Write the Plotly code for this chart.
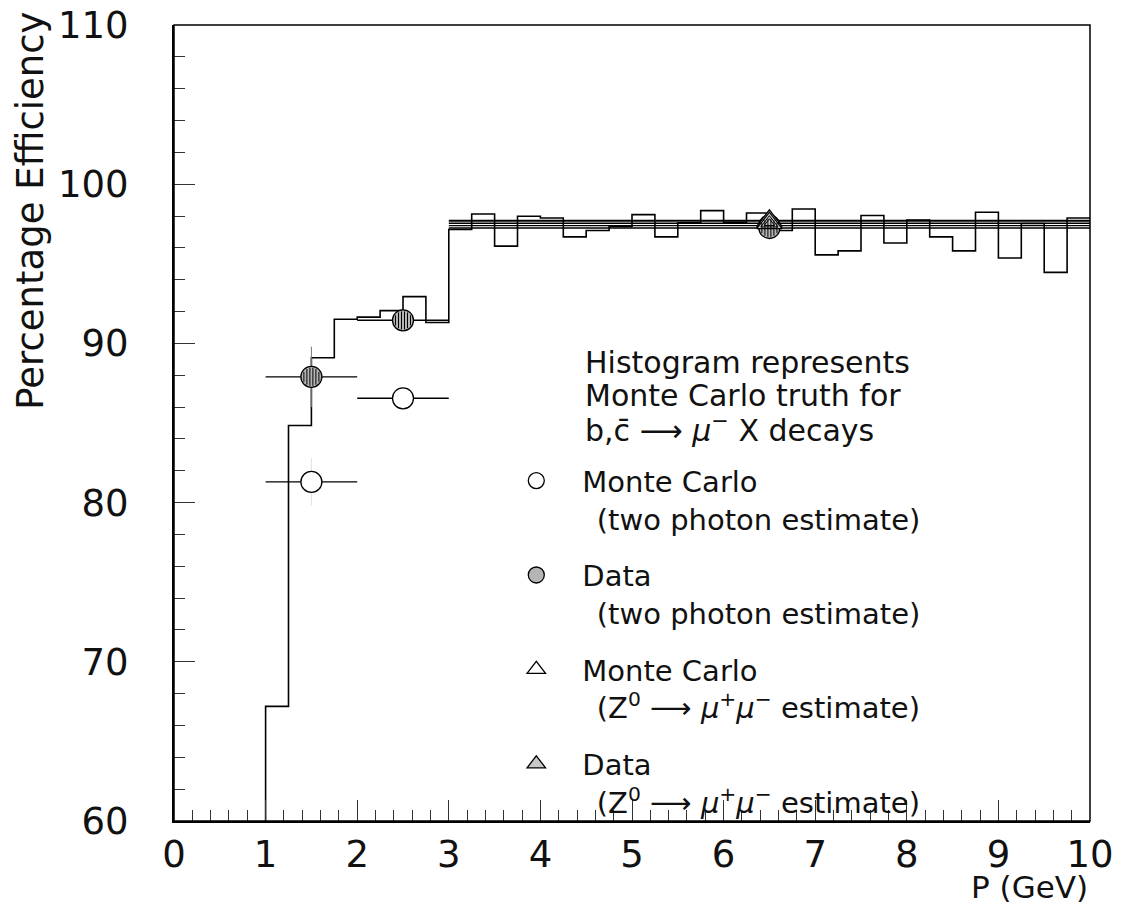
import math
import plotly.graph_objects as go

# ---------------- data ----------------
BIN_WIDTH = 0.25
hist_lo = [1.0 + BIN_WIDTH * i for i in range(36)]          # bin low edges (GeV)
hist_val = [67.2, 84.84, 89.1, 91.52, 91.65, 92.06, 92.94, 91.31,
            97.15, 98.13, 96.11, 97.99, 97.88, 96.69, 97.09, 97.34,
            98.09, 96.69, 97.57, 98.34, 97.61, 98.19, 97.09, 98.44,
            95.56, 95.81, 98.03, 96.31, 97.75, 96.69, 95.81, 98.24,
            95.36, 97.53, 94.46, 97.88]

mc2g_x = [1.5, 2.5, 6.5]
mc2g_y = [81.3, 86.55, 97.40]
mc2g_xerr = [0.5, 0.5, 3.5]
mc2g_yerr = [1.5, 0.0, 0.0]

data2g_x = [1.5, 2.5, 6.5]
data2g_y = [87.9, 91.45, 97.25]
data2g_xerr = [0.5, 0.5, 3.5]
data2g_yerr = [1.9, 0.0, 0.0]

mcz_x = [6.5]
mcz_y = [97.70]
mcz_xerr = [3.5]

dataz_x = [6.5]
dataz_y = [97.55]
dataz_xerr = [3.5]

x_ticks = list(range(0, 11))
y_ticks = [60, 70, 80, 90, 100, 110]

# ---------------- style constants ----------------
X_RANGE = [0, 10]
Y_RANGE = [60, 110]
FONT = "DejaVu Sans"
BLACK = "#000000"

fig = go.Figure()

# histogram (Monte Carlo truth), drawn as a step outline
hx = [hist_lo[0]] + hist_lo + [hist_lo[-1] + BIN_WIDTH]
hy = [Y_RANGE[0]] + hist_val + [hist_val[-1]]
fig.add_trace(go.Scatter(x=hx, y=hy, mode="lines", line=dict(color=BLACK, width=1.6, shape="hv"),
                         showlegend=False, hoverinfo="skip"))

legend_font = dict(family=FONT, size=29, color="#111")
SP = "\u2002"

fig.add_trace(go.Scatter(
    x=mc2g_x, y=mc2g_y, mode="markers", name="Monte Carlo<br>" + SP + "(two photon estimate)",
    legendgroup="a",
    marker=dict(symbol="circle", size=21, color="white", line=dict(color=BLACK, width=1.3)),
    error_x=dict(type="data", array=mc2g_xerr, color=BLACK, thickness=1.4, width=0),
    error_y=dict(type="data", array=mc2g_yerr, color="rgba(0,0,0,0.12)", thickness=1, width=0),
))
fig.add_trace(go.Scatter(
    x=data2g_x, y=data2g_y, mode="markers", name="Data<br>" + SP + "(two photon estimate)",
    legendgroup="b",
    marker=dict(symbol="circle", size=21, color="#b5b5b5", line=dict(color=BLACK, width=1.3)),
    error_x=dict(type="data", array=data2g_xerr, color=BLACK, thickness=1.4, width=0),
    error_y=dict(type="data", array=data2g_yerr, color="#777", thickness=1, width=0),
))
fig.add_trace(go.Scatter(
    x=mcz_x, y=mcz_y, mode="markers",
    name="Monte Carlo<br>" + SP + "(Z<sup>0</sup> ⟶ <i>μ</i><sup>+</sup><i>μ</i><sup>−</sup> estimate)",
    legendgroup="c",
    marker=dict(symbol="triangle-up", size=22, color="white", line=dict(color=BLACK, width=1.3)),
    error_x=dict(type="data", array=mcz_xerr, color=BLACK, thickness=2, width=0),
))
fig.add_trace(go.Scatter(
    x=dataz_x, y=dataz_y, mode="markers",
    name="Data<br>" + SP + "(Z<sup>0</sup> ⟶ <i>μ</i><sup>+</sup><i>μ</i><sup>−</sup> estimate)",
    legendgroup="d",
    marker=dict(symbol="triangle-up", size=22, color="#c8c8c8", line=dict(color=BLACK, width=1.3)),
    error_x=dict(type="data", array=dataz_xerr, color=BLACK, thickness=1.6, width=0),
))
# inner nested triangles for the hatched Data (Z) marker
for s in (15, 9):
    fig.add_trace(go.Scatter(
        x=dataz_x, y=dataz_y, mode="markers", legendgroup="d", showlegend=False, hoverinfo="skip",
        marker=dict(symbol="triangle-up-open", size=s, color=BLACK, line=dict(color=BLACK, width=1)),
    ))

# vertical hatching inside the Data (two photon) circles
R = 9.0
shapes = []
for xi, yi in zip(data2g_x, data2g_y):
    for dx in (-7.5, -4.5, -1.5, 1.5, 4.5, 7.5):
        h = math.sqrt(max(R * R - dx * dx, 0))
        shapes.append(dict(type="line", xref="x", yref="y", xsizemode="pixel", ysizemode="pixel",
                           xanchor=xi, yanchor=yi, x0=dx, x1=dx, y0=-h, y1=h,
                           line=dict(color=BLACK, width=1), layer="above"))

# plot-area frame
shapes.append(dict(type="rect", xref="paper", yref="paper", x0=0, x1=1, y0=0, y1=1,
                   line=dict(color=BLACK, width=1.5), layer="above"))

annotations = [
    dict(text="Percentage Efficiency", xref="paper", yref="paper", x=-0.157, y=0.767,
         xanchor="center", yanchor="middle", textangle=-90, showarrow=False,
         font=dict(family=FONT, size=37, color="#111")),
    dict(text="P (GeV)", xref="paper", yref="paper", x=1.0, y=-0.083,
         xanchor="right", yanchor="middle", showarrow=False,
         font=dict(family=FONT, size=31, color="#111")),
]
header = ["Histogram represents", "Monte Carlo truth for",
          "b,c̄ ⟶ <i>μ</i><sup>−</sup> X decays"]
for i, line in enumerate(header):
    annotations.append(dict(text=line, xref="paper", yref="paper", x=0.4468,
                            y=(821 - (362 + 33 * i)) / 796.5, xanchor="left", yanchor="middle",
                            showarrow=False, font=dict(family=FONT, size=30, color="#111")))

axis_common = dict(showgrid=False, zeroline=False, showline=True, linecolor=BLACK, linewidth=2,
                   ticks="inside", ticklen=21, tickwidth=1.2, tickcolor="#333",
                   tickfont=dict(family=FONT, size=37, color="#111"), mirror=False,
                   automargin=False, ticklabeloverflow="allow")

fig.update_layout(
    width=1114, height=914,
    margin=dict(l=165.5, r=32, t=16.5, b=101),
    paper_bgcolor="white", plot_bgcolor="white",
    xaxis=dict(range=X_RANGE, tickvals=x_ticks, ticktext=[str(v) for v in x_ticks],
               minor=dict(ticks="inside", dtick=0.2, ticklen=11, tickwidth=1.2, tickcolor="#333"),
               ticklabelstandoff=0, **axis_common),
    yaxis=dict(range=Y_RANGE, tickvals=y_ticks, ticktext=[str(v) for v in y_ticks],
               minor=dict(ticks="inside", dtick=2, ticklen=11, tickwidth=1.2, tickcolor="#333"),
               ticklabelstandoff=36, **axis_common),
    showlegend=True,
    legend=dict(x=0.3453, y=0.4595, xanchor="left", yanchor="top", font=legend_font,
                bgcolor="rgba(0,0,0,0)", tracegroupgap=16, valign="top", itemwidth=82,
                traceorder="grouped", itemsizing="trace"),
    shapes=shapes,
    annotations=annotations,
)

fig.write_html("out.html")
